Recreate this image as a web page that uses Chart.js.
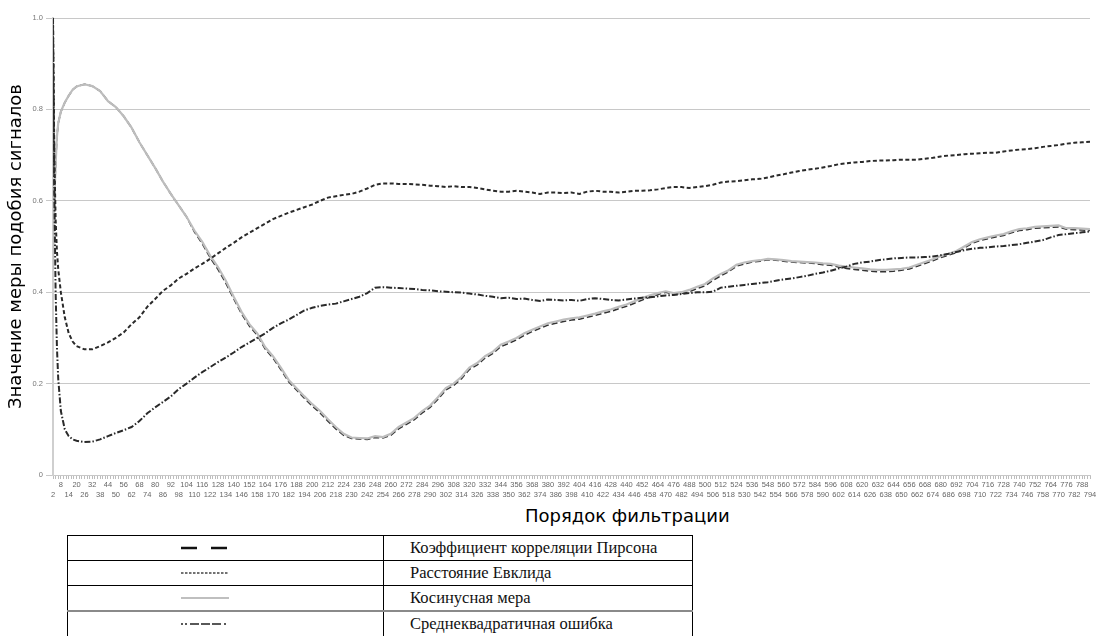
<!DOCTYPE html>
<html>
<head>
<meta charset="utf-8">
<script src="https://cdn.jsdelivr.net/npm/chart.js@4.4.1/dist/chart.umd.min.js"></script>
<style>
    body { margin: 0; background: #fff; width: 1098px; height: 636px; overflow: hidden; position: relative; }
    #chart { position: absolute; left: 0; top: 0; }
    #xtitle { position: absolute; top: 505px; left: 525px; font: 18px "DejaVu Sans", sans-serif; color: #000; white-space: nowrap; }
    #legend { position: absolute; left: 67px; top: 535px; width: 626px; border-collapse: collapse; font: 16.5px "Liberation Serif", serif; color: #111; }
    #legend td { border: 1px solid #000; height: 24px; padding: 0; line-height: 18px; }
    #legend td.sample { width: 315px; }
    #legend td.name { padding-left: 26px; }
    #legend tr.sep td { border-bottom: 2px solid #8a8a8a; }
    #legend svg { display: block; margin-left: 112px; }
</style>
</head>
<body>
<canvas id="chart" width="1098" height="505"></canvas>
<div id="xtitle">Порядок фильтрации</div>
<table id="legend">
    <tr><td class="sample"><svg width="50" height="6"><line x1="1" y1="3" x2="49" y2="3" stroke="#111" stroke-width="2.4" stroke-dasharray="16,14"/></svg></td><td class="name">Коэффициент корреляции Пирсона</td></tr>
    <tr><td class="sample"><svg width="50" height="6"><line x1="1" y1="3" x2="49" y2="3" stroke="#444" stroke-width="1.3" stroke-dasharray="2.5,1.5"/></svg></td><td class="name">Расстояние Евклида</td></tr>
    <tr class="sep"><td class="sample"><svg width="50" height="6"><line x1="1" y1="3" x2="49" y2="3" stroke="#aaa" stroke-width="1.5"/></svg></td><td class="name">Косинусная мера</td></tr>
    <tr><td class="sample"><svg width="50" height="6"><line x1="1" y1="3" x2="48" y2="3" stroke="#222" stroke-width="1.6" stroke-dasharray="2,2,2,3,9,2,9,2,9,3,2,10"/></svg></td><td class="name">Среднеквадратичная ошибка</td></tr>
</table>
<script>
// filter order (x) and the similarity measures
var filterOrder = [2, 3, 4, 5, 6, 8, 11, 14, 17, 20,
    26, 32, 38, 44, 50, 56, 62, 68, 74, 80,
    86, 92, 98, 104, 110, 116, 122, 128, 134, 140,
    146, 152, 158, 164, 170, 176, 182, 188, 194, 200,
    206, 212, 218, 224, 230, 236, 242, 248, 254, 260,
    266, 272, 278, 284, 290, 296, 302, 308, 314, 320,
    326, 332, 338, 344, 350, 356, 362, 368, 374, 380,
    386, 392, 398, 404, 410, 416, 422, 428, 434, 440,
    446, 452, 458, 464, 470, 476, 482, 488, 494, 500,
    506, 512, 518, 524, 530, 536, 542, 548, 554, 560,
    566, 572, 578, 584, 590, 596, 602, 608, 614, 620,
    626, 632, 638, 644, 650, 656, 662, 668, 674, 680,
    686, 692, 698, 704, 710, 716, 722, 728, 734, 740,
    746, 752, 758, 764, 770, 776, 782, 788, 794];

var pearson = [1.0, 0.6, 0.68, 0.74, 0.77, 0.795, 0.815, 0.83, 0.843, 0.85,
    0.855, 0.851, 0.84, 0.818, 0.805, 0.785, 0.76, 0.728, 0.7, 0.672,
    0.642, 0.615, 0.59, 0.565, 0.532, 0.506, 0.476, 0.45, 0.42, 0.386,
    0.353, 0.326, 0.306, 0.276, 0.256, 0.231, 0.204, 0.186, 0.168, 0.151,
    0.136, 0.118, 0.101, 0.087, 0.08, 0.079, 0.078, 0.082, 0.081, 0.087,
    0.101, 0.111, 0.121, 0.136, 0.148, 0.166, 0.186, 0.196, 0.211, 0.231,
    0.241, 0.256, 0.266, 0.281, 0.288, 0.296, 0.306, 0.314, 0.321, 0.328,
    0.332, 0.336, 0.339, 0.341, 0.345, 0.349, 0.354, 0.358, 0.364, 0.369,
    0.376, 0.383, 0.389, 0.395, 0.4, 0.396, 0.397, 0.401, 0.408, 0.414,
    0.426, 0.436, 0.445, 0.457, 0.462, 0.466, 0.468, 0.471, 0.47, 0.468,
    0.466, 0.465, 0.464, 0.463, 0.46, 0.459, 0.455, 0.452, 0.45, 0.448,
    0.446, 0.445, 0.445, 0.446, 0.448, 0.451, 0.457, 0.463, 0.469, 0.476,
    0.481, 0.487, 0.497, 0.507, 0.513, 0.517, 0.521, 0.524, 0.53, 0.535,
    0.537, 0.54, 0.541, 0.542, 0.543, 0.538, 0.537, 0.536, 0.535];

var euclid = [1.0, 0.7, 0.56, 0.49, 0.45, 0.4, 0.345, 0.31, 0.292, 0.282,
    0.275, 0.275, 0.282, 0.29, 0.3, 0.312, 0.33, 0.345, 0.368, 0.385,
    0.403, 0.415, 0.43, 0.44, 0.452, 0.462, 0.473, 0.485, 0.497, 0.508,
    0.52, 0.53, 0.54, 0.55, 0.56, 0.567, 0.574, 0.58, 0.586, 0.592,
    0.6, 0.607, 0.61, 0.613, 0.615, 0.62, 0.627, 0.635, 0.638, 0.638,
    0.637, 0.637, 0.636, 0.635, 0.633, 0.632, 0.63, 0.632, 0.63, 0.63,
    0.628, 0.625, 0.622, 0.62, 0.62, 0.622, 0.62, 0.618, 0.615, 0.618,
    0.618, 0.617, 0.618, 0.615, 0.62, 0.622, 0.62, 0.62, 0.618, 0.62,
    0.622, 0.622, 0.623, 0.625, 0.628, 0.63, 0.63, 0.628, 0.63, 0.632,
    0.635, 0.64, 0.642, 0.643, 0.645, 0.647, 0.648, 0.651, 0.655, 0.658,
    0.662, 0.665, 0.668, 0.67, 0.673, 0.676, 0.68, 0.682, 0.684, 0.685,
    0.687, 0.688, 0.688, 0.689, 0.69, 0.69, 0.69, 0.692, 0.694, 0.697,
    0.699, 0.7, 0.702, 0.703, 0.704, 0.705, 0.705, 0.708, 0.71, 0.712,
    0.713, 0.715, 0.718, 0.72, 0.722, 0.725, 0.727, 0.728, 0.729];

var cosine = [0.45, 0.6, 0.68, 0.74, 0.77, 0.795, 0.815, 0.83, 0.843, 0.85,
    0.855, 0.851, 0.84, 0.818, 0.805, 0.785, 0.76, 0.728, 0.7, 0.672,
    0.642, 0.615, 0.59, 0.565, 0.535, 0.51, 0.48, 0.455, 0.425, 0.39,
    0.357, 0.33, 0.31, 0.28, 0.26, 0.235, 0.208, 0.19, 0.172, 0.155,
    0.14, 0.122, 0.105, 0.09, 0.082, 0.081, 0.08, 0.085, 0.083, 0.09,
    0.105, 0.115, 0.125, 0.14, 0.152, 0.17, 0.19, 0.2, 0.215, 0.235,
    0.245, 0.26, 0.27, 0.285, 0.292, 0.3, 0.31, 0.318, 0.325, 0.332,
    0.336, 0.34, 0.343, 0.345, 0.349, 0.353, 0.358, 0.362, 0.368, 0.373,
    0.38, 0.387, 0.393, 0.398, 0.402, 0.398, 0.4, 0.405, 0.412, 0.418,
    0.43, 0.44, 0.448, 0.46, 0.465, 0.468, 0.47, 0.473, 0.472, 0.47,
    0.468, 0.467, 0.466, 0.465, 0.463, 0.462, 0.458, 0.456, 0.454, 0.452,
    0.45, 0.449, 0.449, 0.45, 0.451, 0.454, 0.46, 0.466, 0.472, 0.479,
    0.484, 0.49, 0.5, 0.51, 0.516, 0.52, 0.524, 0.527, 0.533, 0.538,
    0.54, 0.543, 0.544, 0.545, 0.546, 0.54, 0.54, 0.539, 0.538];

var rmse = [1.0, 0.62, 0.4, 0.28, 0.21, 0.14, 0.1, 0.085, 0.078, 0.075,
    0.072, 0.073, 0.078, 0.085, 0.092, 0.098, 0.105, 0.118, 0.135, 0.148,
    0.16, 0.172, 0.188, 0.2, 0.213, 0.225, 0.236, 0.247, 0.257, 0.268,
    0.28, 0.29, 0.3, 0.31, 0.322, 0.332, 0.34, 0.35, 0.36, 0.366,
    0.37, 0.373, 0.375, 0.38, 0.385, 0.39, 0.398, 0.41, 0.411, 0.41,
    0.409, 0.408, 0.407, 0.405, 0.404, 0.402, 0.401, 0.4, 0.399, 0.397,
    0.395, 0.392, 0.39, 0.387, 0.388, 0.385, 0.386, 0.383, 0.381, 0.384,
    0.383, 0.382, 0.383, 0.381, 0.385, 0.387, 0.385, 0.383, 0.382, 0.384,
    0.386, 0.388, 0.389, 0.391, 0.393, 0.394, 0.396, 0.398, 0.4, 0.4,
    0.401, 0.41, 0.412, 0.414, 0.416, 0.418, 0.42, 0.422, 0.425, 0.428,
    0.43, 0.433, 0.436, 0.44, 0.443, 0.447, 0.452, 0.456, 0.462, 0.465,
    0.467, 0.47, 0.472, 0.474, 0.475, 0.476, 0.476, 0.477, 0.478, 0.481,
    0.484, 0.488, 0.492, 0.495, 0.497, 0.498, 0.5, 0.501, 0.503, 0.505,
    0.508, 0.511, 0.514, 0.52, 0.525, 0.527, 0.529, 0.531, 0.533];

// x axis: a small tick every 2, a label every 6 (labels alternate two rows)
var xMin = 2;
var xMax = 794;
var minorStep = 2;
var labelStep = 6;
var yTicks = [0, 0.2, 0.4, 0.6, 0.8, 1];

var minorTicks = [];
for (var t = xMin; t <= xMax; t += minorStep) {
    minorTicks.push(t);
}

/**
 * Pair x values with one series.
 * @param {Array} values series values
 * @returns {Array} points
 */
function toPoints(values) {
    return filterOrder.map(function(x, i) {
        return {x: x, y: values[i]};
    });
}

var ctx = document.getElementById('chart').getContext('2d');
new Chart(ctx, {
    type: 'line',
    data: {
        datasets: [{
            label: 'Среднеквадратичная ошибка',
            data: toPoints(rmse),
            borderColor: '#2a2a2a',
            borderWidth: 2,
            borderDash: [6, 2, 1.5, 2],
            order: 1
        }, {
            label: 'Расстояние Евклида',
            data: toPoints(euclid),
            borderColor: '#2a2a2a',
            borderWidth: 2,
            borderDash: [4, 2.5],
            order: 2
        }, {
            label: 'Косинусная мера',
            data: toPoints(cosine),
            borderColor: '#bdbdbd',
            borderWidth: 2.2,
            order: 3
        }, {
            label: 'Коэффициент корреляции Пирсона',
            data: toPoints(pearson),
            borderColor: '#333',
            borderWidth: 1.6,
            borderDash: [6, 3],
            order: 4
        }]
    },
    options: {
        responsive: false,
        animation: false,
        layout: {padding: {top: 18, right: 8, left: 0, bottom: 0}},
        elements: {point: {radius: 0}, line: {tension: 0}},
        plugins: {legend: {display: false}, tooltip: {enabled: false}},
        scales: {
            x: {
                type: 'linear',
                min: xMin,
                max: xMax,
                afterBuildTicks: function(scale) {
                    scale.ticks = minorTicks.map(function(v) {
                        return {value: v};
                    });
                },
                afterFit: function(scale) {
                    scale.height = 30;
                },
                grid: {drawOnChartArea: false, tickLength: 4, color: '#bdbdbd'},
                border: {color: '#c8c8c8', width: 1},
                ticks: {
                    autoSkip: false,
                    maxRotation: 0,
                    minRotation: 0,
                    padding: 1,
                    color: '#666',
                    font: {family: 'Liberation Sans', size: 7.5, lineHeight: 1.3},
                    callback: function(value) {
                        var k = (value - xMin) / labelStep;
                        if (k !== Math.round(k)) {
                            return '';
                        }
                        return k % 2 === 0 ? ['', String(value)] : [String(value), ''];
                    }
                }
            },
            y: {
                min: 0,
                max: 1,
                afterBuildTicks: function(scale) {
                    scale.ticks = yTicks.map(function(v) {
                        return {value: v};
                    });
                },
                afterFit: function(scale) {
                    scale.width = 53;
                },
                grid: {color: '#c8c8c8', tickLength: 7},
                border: {color: '#cfcfcf', width: 2},
                ticks: {
                    padding: 3,
                    color: '#777',
                    font: {family: 'Liberation Sans', size: 7.5}
                },
                title: {
                    display: true,
                    text: 'Значение меры подобия сигналов',
                    color: '#000',
                    font: {family: 'DejaVu Sans', size: 18},
                    padding: {top: 6, bottom: 0}
                }
            }
        }
    }
});
</script>
</body>
</html>
